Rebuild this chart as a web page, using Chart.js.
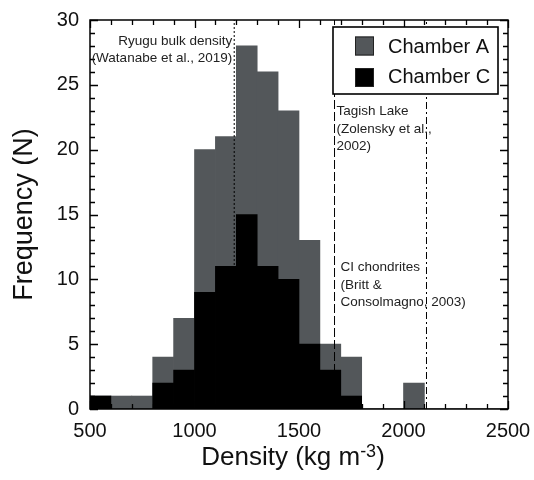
<!DOCTYPE html>
<html>
<head>
<meta charset="utf-8">
<script src="https://cdn.jsdelivr.net/npm/chart.js@4/dist/chart.umd.min.js"></script>
<style>
  body { margin: 0; background: #fff; }
</style>
</head>
<body>
<canvas id="densityChart" width="534" height="480"></canvas>
<script>
// bin centres (kg m-3), bins are 100 wide
const binCenters = [550, 650, 750, 850, 950, 1050, 1150, 1250, 1350, 1450,
                    1550, 1650, 1750, 1850, 1950, 2050, 2150, 2250, 2350, 2450];
const chamberA = [1, 1, 1, 4, 7, 20, 21, 28, 26, 23, 13, 5, 4, 0, 0, 2, 0, 0, 0, 0];
const chamberC = [1, 0, 0, 2, 3, 9, 11, 15, 11, 10, 5, 3, 1, 0, 0, 0, 0, 0, 0, 0];

// reference densities
const ryuguDensity = 1190;
const tagishDensity = 1670;
const ciDensity = 2110;

const FONT = "'Liberation Sans', Arial, sans-serif";

function toPoints(values) {
    return binCenters.map((x, i) => ({ x: x, y: values[i] }));
}

function refLine(label, x, dash) {
    return {
        type: 'line',
        label: label,
        data: [{ x: x, y: 0 }, { x: x, y: 30 }],
        borderColor: '#000',
        borderWidth: 1,
        borderDash: dash,
        pointRadius: 0,
        fill: false,
        order: 0
    };
}

// frame, inward ticks, x title, notes and legend box
const extras = {
    id: 'extras',
    afterDatasetsDraw(chart) {
        const ctx = chart.ctx;
        const area = chart.chartArea;
        const xs = chart.scales.x;
        const ys = chart.scales.y;

        ctx.save();
        ctx.setLineDash([]);
        ctx.strokeStyle = '#000';
        ctx.lineWidth = 1.3;

        // minor / major ticks on all four sides
        for (let v = xs.min; v <= xs.max; v += 100) {
            const px = Math.round(xs.getPixelForValue(v)) + 0.5;
            const len = v % 500 === 0 ? 8 : 5;
            ctx.beginPath();
            ctx.moveTo(px, area.bottom);
            ctx.lineTo(px, area.bottom - len);
            ctx.moveTo(px, area.top);
            ctx.lineTo(px, area.top + len);
            ctx.stroke();
        }
        for (let v = ys.min; v <= ys.max; v += 1) {
            const py = Math.round(ys.getPixelForValue(v)) + 0.5;
            const len = v % 5 === 0 ? 8 : 5;
            ctx.beginPath();
            ctx.moveTo(area.left, py);
            ctx.lineTo(area.left + len, py);
            ctx.moveTo(area.right, py);
            ctx.lineTo(area.right - len, py);
            ctx.stroke();
        }

        ctx.lineWidth = 1.5;
        ctx.strokeRect(area.left, area.top, area.right - area.left, area.bottom - area.top);

        // x axis title with superscript
        ctx.fillStyle = '#111';
        ctx.textBaseline = 'alphabetic';
        ctx.textAlign = 'left';
        const main = 'Density (kg m', sup = '-3', tail = ')';
        ctx.font = '26px ' + FONT;
        const w1 = ctx.measureText(main).width;
        const w3 = ctx.measureText(tail).width;
        ctx.font = '18px ' + FONT;
        const w2 = ctx.measureText(sup).width;
        let tx0 = (area.left + area.right) / 2 - 6 - (w1 + w2 + w3) / 2;
        ctx.font = '26px ' + FONT;
        ctx.fillText(main, tx0, 465);
        ctx.font = '18px ' + FONT;
        ctx.fillText(sup, tx0 + w1, 457);
        ctx.font = '26px ' + FONT;
        ctx.fillText(tail, tx0 + w1 + w2, 465);

        // notes next to the reference lines
        ctx.fillStyle = '#222';
        ctx.font = '13.5px ' + FONT;
        ctx.textBaseline = 'middle';
        const rx = xs.getPixelForValue(ryuguDensity);
        ctx.textAlign = 'right';
        ctx.fillText('Ryugu bulk density', rx - 2, area.top + 21);
        ctx.fillText('(Watanabe et al., 2019)', rx - 2, area.top + 38);

        const tx = xs.getPixelForValue(tagishDensity);
        ctx.textAlign = 'left';
        ctx.fillText('Tagish Lake', tx + 2, area.top + 91);
        ctx.fillText('(Zolensky et al.,', tx + 2, area.top + 109);
        ctx.fillText('2002)', tx + 2, area.top + 126);

        ctx.fillText('CI chondrites', tx + 6, area.top + 247);
        ctx.fillText('(Britt &', tx + 6, area.top + 265);
        ctx.fillText('Consolmagno, 2003)', tx + 6, area.top + 282);

        // legend box
        const bw = 165, bh = 67;
        const bx = area.right - 10 - bw;
        const by = area.top + 7;
        ctx.fillStyle = '#fff';
        ctx.fillRect(bx, by, bw, bh);
        ctx.lineWidth = 1.6;
        ctx.strokeRect(bx, by, bw, bh);
        ctx.font = '20px ' + FONT;
        ctx.textAlign = 'left';
        ctx.textBaseline = 'alphabetic';
        const items = [chart.data.datasets[0], chart.data.datasets[1]];
        items.forEach((ds, i) => {
            const sy = by + 9.5 + i * 31.5;
            ctx.fillStyle = ds.backgroundColor;
            ctx.fillRect(bx + 22, sy, 19, 19);
            ctx.lineWidth = 1;
            ctx.strokeStyle = '#222';
            ctx.strokeRect(bx + 22.5, sy + 0.5, 18, 18);
            ctx.fillStyle = '#111';
            ctx.fillText(ds.label, bx + 55, by + 26 + i * 30);
        });
        ctx.restore();
    }
};

const ctx = document.getElementById('densityChart').getContext('2d');
const densityChart = new Chart(ctx, {
    type: 'bar',
    data: {
        datasets: [{
            label: 'Chamber A',
            data: toPoints(chamberA),
            backgroundColor: '#53575a',
            borderWidth: 0,
            grouped: false,
            barPercentage: 1,
            categoryPercentage: 1,
            order: 2
        }, {
            label: 'Chamber C',
            data: toPoints(chamberC),
            backgroundColor: '#000000',
            borderWidth: 0,
            grouped: false,
            barPercentage: 1,
            categoryPercentage: 1,
            order: 1
        },
        refLine('Ryugu', ryuguDensity, [2, 2]),
        refLine('Tagish Lake', tagishDensity, [9, 3]),
        refLine('CI chondrites', ciDensity, [7, 3, 2, 3])]
    },
    options: {
        responsive: false,
        animation: false,
        layout: { padding: { left: 0, right: 26, top: 20, bottom: 0 } },
        plugins: {
            legend: { display: false },
            tooltip: { enabled: false }
        },
        scales: {
            x: {
                type: 'linear',
                min: 500,
                max: 2500,
                offset: false,
                grid: { display: false, drawTicks: false, offset: false },
                border: { display: false },
                ticks: {
                    stepSize: 500,
                    padding: 10,
                    color: '#111',
                    font: { family: FONT, size: 20 },
                    callback: v => String(v)
                },
                afterFit(scale) {
                    scale.height = 71;
                    scale.paddingLeft = 0;
                    scale.paddingRight = 0;
                }
            },
            y: {
                min: 0,
                max: 30,
                grid: { display: false, drawTicks: false },
                border: { display: false },
                ticks: {
                    stepSize: 5,
                    padding: 11,
                    color: '#111',
                    font: { family: FONT, size: 20 }
                },
                title: {
                    display: true,
                    text: 'Frequency (N)',
                    color: '#111',
                    font: { family: FONT, size: 27 },
                    padding: { top: 8, bottom: 0 }
                },
                afterFit(scale) {
                    scale.width = 90;
                    scale.paddingTop = 0;
                    scale.paddingBottom = 0;
                }
            }
        }
    },
    plugins: [extras]
});
</script>
</body>
</html>
